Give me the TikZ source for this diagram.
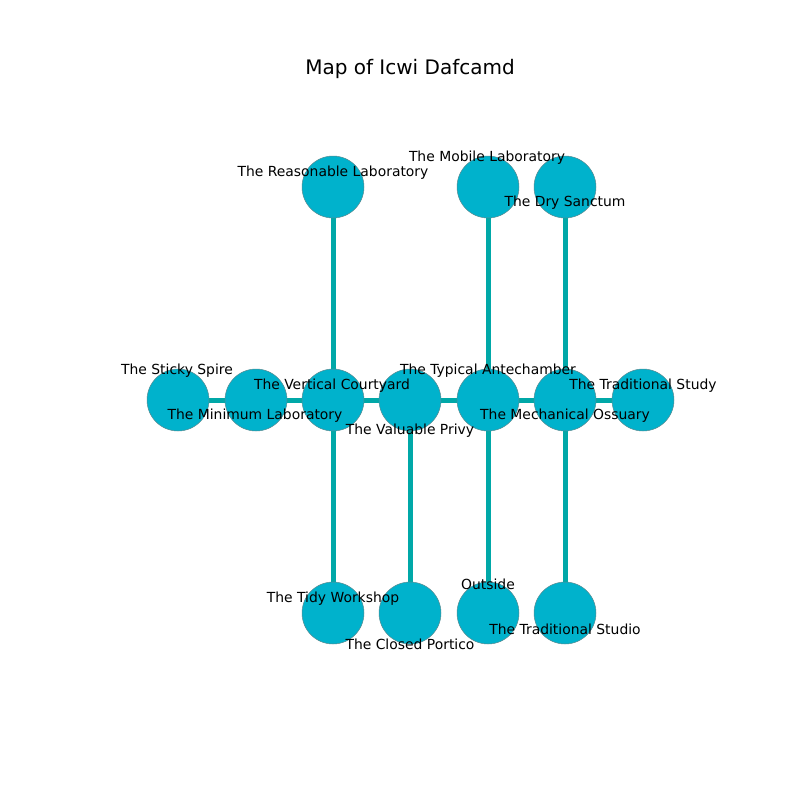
\documentclass[tikz,border=0pt]{standalone}
\usepackage{fontspec}
\setmainfont{DejaVu Sans}
\definecolor{nodefill}{HTML}{00B2CC}
\definecolor{edgecol}{HTML}{00A8A8}
\definecolor{nodeline}{HTML}{5A8A90}
\begin{document}
\begin{tikzpicture}[x=1pt,y=-1pt,
  room/.style={circle,fill=nodefill,draw=nodeline,line width=0.5pt,minimum size=62pt,inner sep=0pt},
  link/.style={draw=edgecol,line width=5pt},
  lbl/.style={font=\fontsize{13.9}{16}\selectfont,inner sep=0pt,anchor=center,yshift=-2pt}]
\useasboundingbox (0,0) rectangle (800,800);
\node[font=\fontsize{20}{24}\selectfont] (title) at (410,69) {Map of Icwi Dafcamd};
% coordinates
\coordinate (cSS) at (178,400);
\coordinate (cML) at (256,400);
\coordinate (cVC) at (333,400);
\coordinate (cVP) at (410,400);
\coordinate (cTA) at (488,400);
\coordinate (cMO) at (565,400);
\coordinate (cTS) at (643,400);
\coordinate (cRL) at (333,187);
\coordinate (cMob) at (488,187);
\coordinate (cDS) at (565,187);
\coordinate (cTW) at (333,613);
\coordinate (cCP) at (410,613);
\coordinate (cOut) at (488,613);
\coordinate (cTSt) at (565,613);
% edges
\draw[link] (cSS) -- (cML);
\draw[link] (cML) -- (cVC);
\draw[link] (cVC) -- (cVP);
\draw[link] (cVP) -- (cTA);
\draw[link] (cTA) -- (cMO);
\draw[link] (cMO) -- (cTS);
\draw[link] (cRL) -- (cVC);
\draw[link] (cVC) -- (cTW);
\draw[link] (cVP) -- (cCP);
\draw[link] (cMob) -- (cTA);
\draw[link] (cTA) -- (cOut);
\draw[link] (cDS) -- (cMO);
\draw[link] (cMO) -- (cTSt);
% nodes
\foreach \c in {SS,ML,VC,VP,TA,MO,TS,RL,Mob,DS,TW,CP,Out,TSt}
  \node[room] (n\c) at (c\c) {};
% labels
\node[lbl] (lSS) at (177,369) {The Sticky Spire};
\node[lbl] (lML) at (255,414) {The Minimum Laboratory};
\node[lbl] (lVC) at (332,384) {The Vertical Courtyard};
\node[lbl] (lVP) at (410,429) {The Valuable Privy};
\node[lbl] (lRL) at (333,171) {The Reasonable Laboratory};
\node[lbl] (lMob) at (487,156) {The Mobile Laboratory};
\node[lbl] (lDS) at (565,201) {The Dry Sanctum};
\node[lbl] (lTA) at (488,369) {The Typical Antechamber};
\node[lbl] (lMO) at (565,414) {The Mechanical Ossuary};
\node[lbl] (lTS) at (643,384) {The Traditional Study};
\node[lbl] (lTW) at (333,597) {The Tidy Workshop};
\node[lbl] (lCP) at (410,642) {The Closed Portico};
\node[lbl] (lOut) at (488,582) {Outside};
\node[lbl] (lTSt) at (565,627) {The Traditional Studio};
\end{tikzpicture}
\end{document}
